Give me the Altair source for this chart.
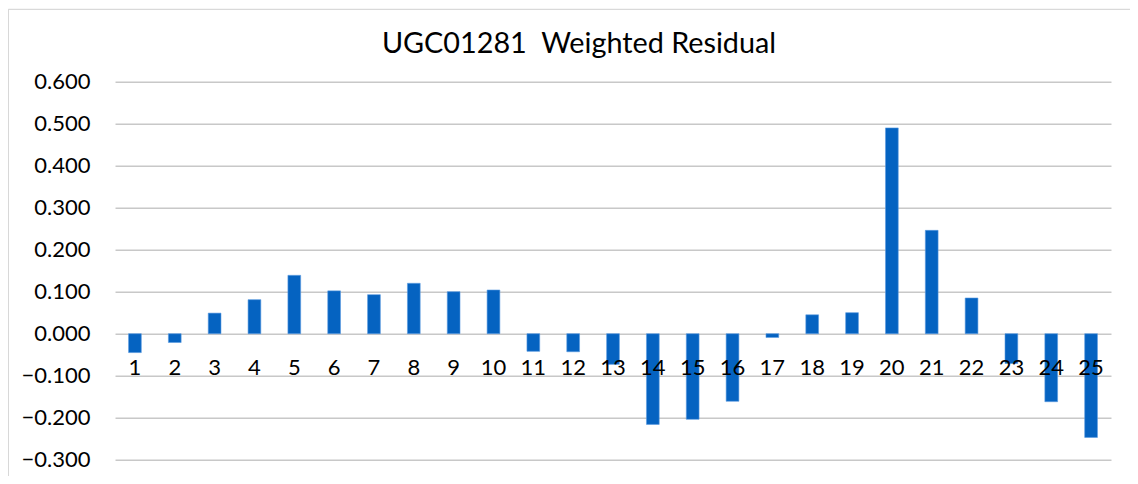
import altair as alt
import pandas as pd

categories = [str(i) for i in range(1, 26)]
values = [-0.045, -0.021, 0.049, 0.081, 0.139, 0.102, 0.093, 0.120, 0.100, 0.104,
          -0.042, -0.043, -0.073, -0.216, -0.204, -0.161, -0.009, 0.045, 0.050, 0.490,
          0.246, 0.085, -0.071, -0.162, -0.247]
y_ticks = [-0.3, -0.2, -0.1, 0.0, 0.1, 0.2, 0.3, 0.4, 0.5, 0.6]
title_text = "UGC01281\u00a0 Weighted Residual"

df = pd.DataFrame({"cat": categories, "val": values})

W, H = 996, 378
ymin, ymax = -0.3, 0.6
below_zero = H * (0 - ymin) / (ymax - ymin)
FONT = "Lato"

bars = alt.Chart(df).mark_bar(color="#0563C1", stroke="#5A9BE0", strokeWidth=0.6).encode(
    x=alt.X("cat:N", sort=categories,
            scale=alt.Scale(paddingInner=0.68, paddingOuter=0.34),
            axis=alt.Axis(title=None, grid=False, domain=False, ticks=False, tickSize=0,
                          labelAngle=0, labelFont=FONT, labelFontSize=22, labelColor="#000000",
                          labelBaseline="alphabetic", labelPadding=40.5,
                          offset=-below_zero, zindex=1)),
    y=alt.Y("val:Q", scale=alt.Scale(domain=[ymin, ymax], nice=False, zero=False),
            axis=alt.Axis(title=None, values=y_ticks, format=".3f", domain=False, ticks=False,
                          tickSize=0, labelPadding=25, labelFont=FONT, labelFontSize=22,
                          labelColor="#000000", grid=True, gridColor="#C8C8C8",
                          gridWidth=1.5, zindex=0)),
)

frame_df = pd.DataFrame({"k": [0]})
top_border = alt.Chart(frame_df).mark_rule(color="#D0D0D0", strokeWidth=1).encode(
    x=alt.value(-106.7), x2=alt.value(W + 30), y=alt.value(-72.4))
left_border = alt.Chart(frame_df).mark_rule(color="#D0D0D0", strokeWidth=1).encode(
    x=alt.value(-106.7), y=alt.value(-72.4), y2=alt.value(H + 40))
title = alt.Chart(frame_df).mark_text(
    text=title_text, font=FONT, fontSize=28.8, color="#000000",
    align="center", baseline="alphabetic").encode(
    x=alt.value(464), y=alt.value(-28.4))

chart = alt.layer(bars, top_border, left_border, title).properties(
    width=W, height=H,
    autosize=alt.AutoSizeParams(type="none"),
    padding={"left": 107, "top": 73.7, "right": 19, "bottom": 16},
).configure_view(stroke=None)

chart.save("out.html", embed_options={"renderer": "svg", "actions": False})
